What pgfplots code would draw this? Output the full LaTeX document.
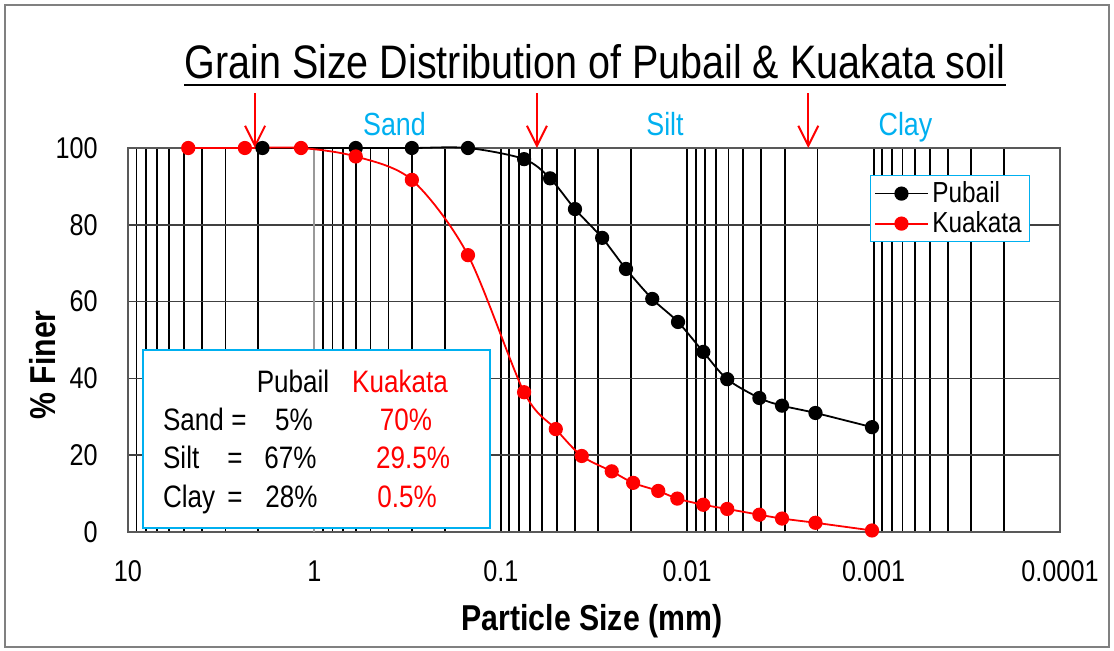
\documentclass[border=0pt]{standalone}
\usepackage{fontspec}
\setmainfont{Liberation Sans}[FakeStretch=0.84]
\usepackage{pgfplots}
\usepackage{pgfplotstable}
\pgfplotsset{compat=1.18}
\usetikzlibrary{arrows.meta}
\definecolor{xlcyan}{HTML}{00B0F0}
\definecolor{xlred}{HTML}{FF0000}

\pgfplotstableread{
x y
1.9 100
0.6 100
0.3 100
0.15 100
0.075 97.1
0.0544 92.1
0.040 84.1
0.0286 76.6
0.0213 68.5
0.0154 60.7
0.0112 54.7
0.0082 46.9
0.0061 39.8
0.0041 34.9
0.0031 32.9
0.00205 31.0
0.00102 27.3
}\pubail

\pgfplotstableread{
x y
4.75 100
2.36 100
1.18 100
0.6 97.8
0.3 91.7
0.15 72.1
0.075 36.4
0.0507 26.8
0.0368 19.8
0.0254 15.8
0.0195 12.8
0.0143 10.7
0.0113 8.7
0.0082 7.1
0.0061 6.0
0.0041 4.5
0.0031 3.5
0.00205 2.4
0.00102 0.4
}\kuakata

\tikzset{px/.style={x=0.5pt,y=-0.5pt,shift={(-64pt,266pt)}}}

\begin{document}
\begin{tikzpicture}[font=\fontsize{15pt}{18pt}\selectfont]
\useasboundingbox[px] (0,0) rectangle (1114,650);
\begin{axis}[
  at={(0,0)}, anchor=south west,
  scale only axis, width=466pt, height=192pt,
  xmode=log, x dir=reverse, xmin=1e-4, xmax=10,
  ymin=0, ymax=100,
  ytick={0,20,40,60,80,100}, yticklabels={0,20,40,60,80,100},
  xtick={0.0001,0.001,0.01,0.1,1,10},
  xticklabels={0.0001,0.001,0.01,0.1,1,10},
  minor xtick={0.0002,0.0003,0.0004,0.0005,0.0006,0.0007,0.0008,0.0009,
               0.002,0.003,0.004,0.005,0.006,0.007,0.008,0.009,
               0.02,0.03,0.04,0.05,0.06,0.07,0.08,0.09,
               0.2,0.3,0.4,0.5,0.6,0.7,0.8,0.9,
               2,3,4,5,6,7,8,9},
  xmajorgrids, xminorgrids, ymajorgrids,
  major x grid style={black, line width=0.9pt},
  minor x grid style={black, line width=0.9pt},
  major y grid style={black!75, line width=0.85pt},
  major tick length=0pt, minor tick length=0pt,
  axis line style={black!65, line width=0.6pt},
  tick label style={font=\fontsize{15pt}{18pt}\selectfont, inner sep=0pt},
  xticklabel style={anchor=north, yshift=-14pt},
  yticklabel style={anchor=east, xshift=-15pt},
  clip=false,
  legend cell align=left,
  legend style={at={(rel axis cs:0.796,0.930)}, anchor=north west,
    draw=xlcyan, line width=0.7pt, fill=white,
    font=\fontsize{14.5pt}{16pt}\selectfont,
    inner xsep=2pt, inner ysep=1pt, row sep=-1pt},
  legend image code/.code={\draw[mark repeat=2,mark phase=2,#1] plot coordinates {(0pt,0pt) (13pt,0pt) (26pt,0pt)};},
]
\draw[black!40, line width=0.9pt] (axis cs:1,0) -- (axis cs:1,100);
\addplot[black, line width=0.9pt, smooth, mark=*, mark size=3.1pt, mark options={solid, fill=black}] table {\pubail};
\addlegendentry{Pubail}
\addplot[xlred, line width=0.9pt, smooth, mark=*, mark size=3.1pt, mark options={solid, fill=xlred}] table {\kuakata};
\addlegendentry{Kuakata}
\draw[xlred, line width=1pt, -{Straight Barb[length=10pt,width=10pt]}] (axis cs:2.08,114.3) -- (axis cs:2.08,100);
\draw[xlred, line width=1pt, -{Straight Barb[length=10pt,width=10pt]}] (axis cs:0.064,114.3) -- (axis cs:0.064,100);
\draw[xlred, line width=1pt, -{Straight Barb[length=10pt,width=10pt]}] (axis cs:0.00224,114.3) -- (axis cs:0.00224,100);
\end{axis}
\begin{scope}[px]
\draw[black!50, line width=0.75pt] (5,5) rectangle (1109,647);
% title
\node[anchor=base, inner sep=0pt, font=\fontsize{23.5pt}{26pt}\selectfont] (T) at (595,78) {Grain Size Distribution of Pubail \& Kuakata soil};
\draw[line width=1pt] ([yshift=-3.5pt]T.base west) -- ([yshift=-3.5pt]T.base east);
% zone labels
\begin{scope}[font=\fontsize{16pt}{18pt}\selectfont, text=xlcyan]
\node[anchor=base] at (394.5,135) {Sand};
\node[anchor=base] at (665,135) {Silt};
\node[anchor=base] at (905.5,135) {Clay};
\end{scope}
% axis labels
\node[anchor=base, font=\fontsize{18pt}{20pt}\selectfont\bfseries] at (592,630) {Particle Size (mm)};
\node[rotate=90, font=\fontsize{18pt}{20pt}\selectfont\bfseries] at (42.5,365) {\% Finer};
% text box
\draw[xlcyan, line width=0.8pt, fill=white] (143,350) rectangle (490,528);
\begin{scope}[font=\fontsize{15.5pt}{18pt}\selectfont, inner sep=0pt]
\node[anchor=base] at (293,392) {Pubail};
\node[anchor=base, text=xlred] at (400,392) {Kuakata};
\node[anchor=base west] at (162.7,430) {Sand};
\node[anchor=base west] at (162.7,468) {Silt};
\node[anchor=base west] at (162.7,507) {Clay};
\node[anchor=base] at (239,430) {=};
\node[anchor=base] at (235,468) {=};
\node[anchor=base] at (235,507) {=};
\node[anchor=base] at (294,430) {5\%};
\node[anchor=base] at (290.5,468) {67\%};
\node[anchor=base] at (291.5,507) {28\%};
\node[anchor=base, text=xlred] at (406,430) {70\%};
\node[anchor=base, text=xlred] at (413,468) {29.5\%};
\node[anchor=base, text=xlred] at (407,507) {0.5\%};
\end{scope}
\end{scope}
\end{tikzpicture}
\end{document}
